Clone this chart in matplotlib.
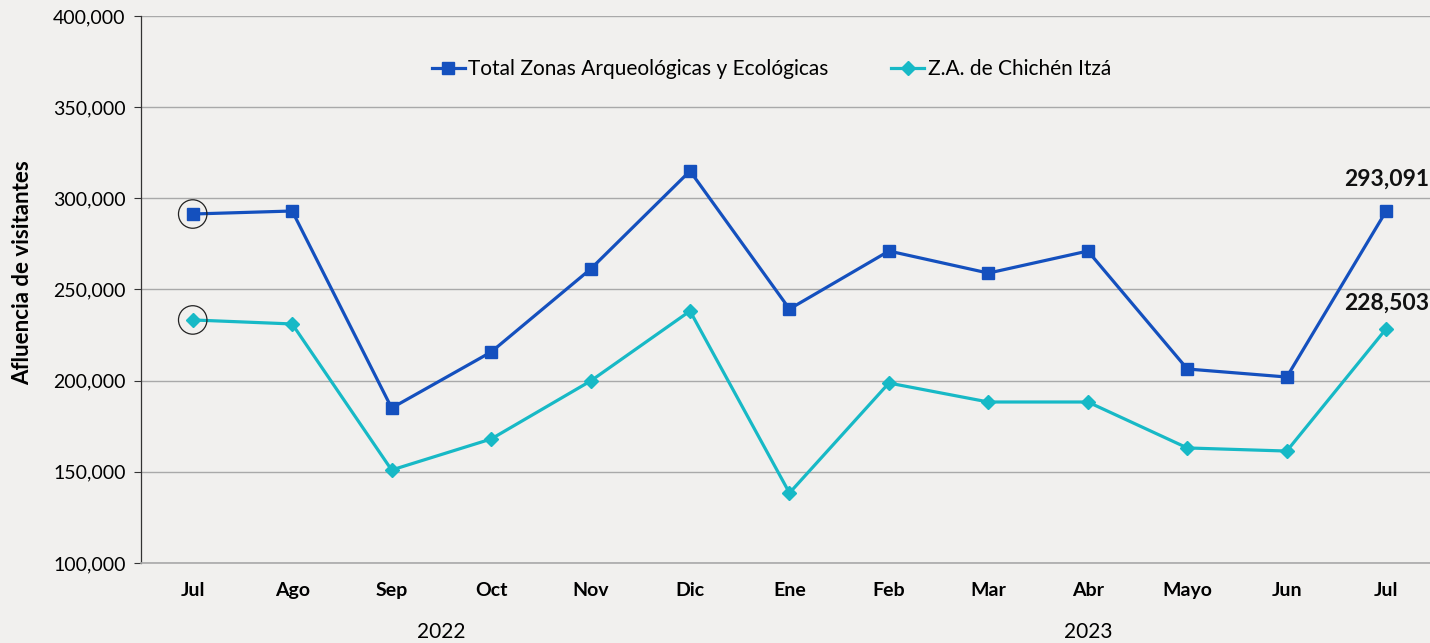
import matplotlib
matplotlib.use("Agg")
import matplotlib.pyplot as plt
from matplotlib.ticker import FuncFormatter

months = ["Jul", "Ago", "Sep", "Oct", "Nov", "Dic", "Ene", "Feb", "Mar", "Abr", "Mayo", "Jun", "Jul"]
years = ["2022", "2023"]
total = [291400, 293050, 185000, 215700, 261200, 315000, 239300, 271100, 259000, 271100, 206400, 202000, 293091]
chichen = [233300, 231100, 151000, 168000, 199800, 238200, 138400, 198700, 188300, 188300, 163100, 161400, 228503]
series_names = ["Total Zonas Arqueológicas y Ecológicas", "Z.A. de Chichén Itzá"]

BG = "#f1f0ee"
BLUE = "#1450be"
TEAL = "#17b9c6"
FONT = ["Lato", "DejaVu Sans"]
plt.rcParams["font.family"] = FONT

fig = plt.figure(figsize=(14.30, 6.43), dpi=100, facecolor=BG)
ax = fig.add_axes([141/1430, 80/643, 1 - 141/1430, (563-16)/643])
ax.set_facecolor(BG)

x = list(range(len(months)))
ax.plot(x, total, color=BLUE, lw=2.3, marker="s", ms=9, label=series_names[0], zorder=3)
ax.plot(x, chichen, color=TEAL, lw=2.3, marker="D", ms=7, label=series_names[1], zorder=3)

# circles around first points
ax.scatter([x[0], x[0]], [total[0], chichen[0]], s=420, facecolors="none",
           edgecolors="#222222", linewidths=0.9, zorder=4)

# end labels
ax.annotate(f"{total[-1]:,}", (x[-1], total[-1]), xytext=(0, 15), textcoords="offset points",
            ha="center", va="bottom", fontsize=16.5, fontweight="bold", color="#111111")
ax.annotate(f"{chichen[-1]:,}", (x[-1], chichen[-1]), xytext=(0, 11), textcoords="offset points",
            ha="center", va="bottom", fontsize=16.5, fontweight="bold", color="#111111")

ax.set_ylim(100000, 400000)
ax.set_yticks(range(100000, 400001, 50000))
ax.yaxis.set_major_formatter(FuncFormatter(lambda v, p: f"{int(v):,}"))
ax.set_xlim(-0.52, 12.44)
ax.set_xticks(x)
ax.set_xticklabels(months, fontsize=14, fontweight="bold")
ax.tick_params(axis="x", length=0, pad=14)
ax.tick_params(axis="y", length=5, width=0.8, color="#333333", labelsize=14, pad=6)
ax.grid(axis="y", color="#a9a9a9", lw=1.0)
ax.set_axisbelow(True)
for s in ["top", "right"]:
    ax.spines[s].set_visible(False)
ax.spines["left"].set_color("#333333")
ax.spines["left"].set_linewidth(0.9)
ax.spines["bottom"].set_color("#a9a9a9")
ax.spines["bottom"].set_linewidth(1.2)

ax.set_ylabel("Afluencia de visitantes", fontsize=16, fontweight="bold")
ax.yaxis.set_label_coords(-0.084, 0.53)

# year labels
ax.text(2.5, -0.127, years[0], transform=ax.get_xaxis_transform(), ha="center", va="center", fontsize=15)
ax.text(9.0, -0.127, years[1], transform=ax.get_xaxis_transform(), ha="center", va="center", fontsize=15)

leg = ax.legend(loc="upper center", bbox_to_anchor=(0.489, 0.955), ncol=2, frameon=False,
                fontsize=15, handlelength=1.6, handletextpad=0.15, columnspacing=3.0)

fig.savefig("out.png", dpi=100, facecolor=BG)
